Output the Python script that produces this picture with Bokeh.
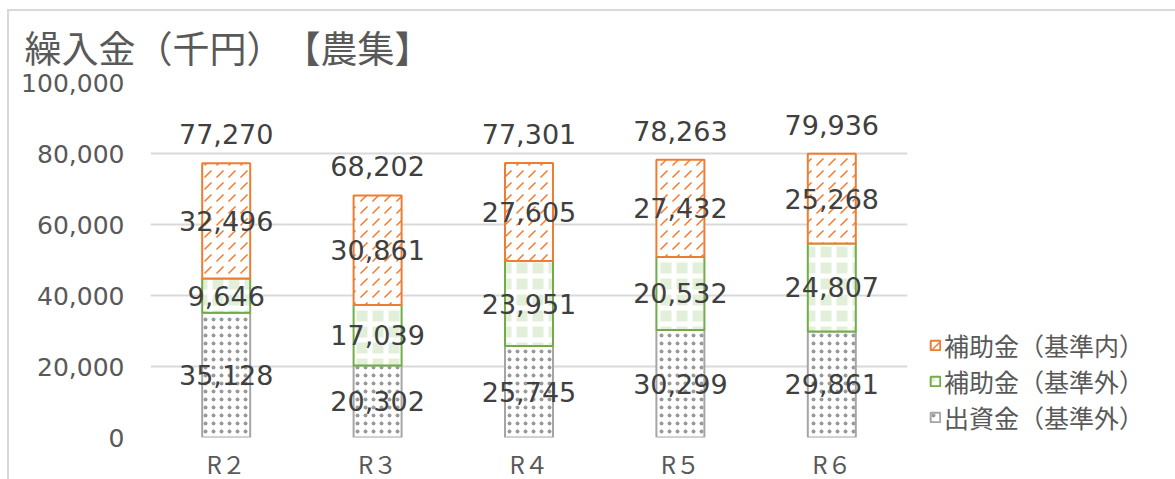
from bokeh.plotting import figure
from bokeh.models import ColumnDataSource, Legend, LegendItem, NumeralTickFormatter, FixedTicker
from bokeh.core.properties import value
from bokeh.embed import file_html
from bokeh.resources import INLINE

categories = ["R２", "R３", "R４", "R５", "R６"]
shusshi_gai = [35128, 20302, 25745, 30299, 29861]   # 出資金（基準外）
hojo_gai = [9646, 17039, 23951, 20532, 24807]       # 補助金（基準外）
hojo_nai = [32496, 30861, 27605, 27432, 25268]      # 補助金（基準内）
totals = [77270, 68202, 77301, 78263, 79936]
y_ticks = [0, 20000, 40000, 60000, 80000, 100000]

JP = "Noto Sans CJK JP"
NUM = "DejaVu Sans"

b1 = [0] * 5
t1 = list(shusshi_gai)
b2 = t1
t2 = [a + b for a, b in zip(shusshi_gai, hojo_gai)]
b3 = t2
t3 = [a + b for a, b in zip(t2, hojo_nai)]

src = ColumnDataSource(dict(
    x=categories, b1=b1, t1=t1, b2=b2, t2=t2, b3=b3, t3=t3,
    m1=[(a + b) / 2 for a, b in zip(b1, t1)],
    m2=[(a + b) / 2 for a, b in zip(b2, t2)],
    m3=[(a + b) / 2 for a, b in zip(b3, t3)],
    l1=[f"{v:,}" for v in shusshi_gai],
    l2=[f"{v:,}" for v in hojo_gai],
    l3=[f"{v:,}" for v in hojo_nai],
    tot=totals,
    lt=[f"{v:,}" for v in totals],
))

p = figure(x_range=categories, y_range=(0, 100000),
           frame_width=757, frame_height=355,
           output_backend="svg", toolbar_location=None,
           min_border_left=141, min_border_right=267, min_border_top=71, min_border_bottom=40)

p.title.text = "繰入金（千円）　【農集】"
p.title.text_font = JP
p.title.text_font_size = "37px"
p.title.text_font_style = "normal"
p.title.text_color = "#595959"
p.title.text_line_height = 1.0
p.title.align = "left"
p.title.vertical_align = "middle"
p.title.offset = -126
p.title.standoff = 15

p.outline_line_color = None
p.background_fill_color = "white"
p.border_fill_color = "white"
p.styles = {"margin-left": "7px", "margin-top": "9px",
            "border-left": "2px solid #d9d9d9", "border-top": "2px solid #d9d9d9"}

p.xgrid.grid_line_color = None
p.ygrid.grid_line_color = "#d9d9d9"
p.ygrid.grid_line_width = 2
p.ygrid.ticker = FixedTicker(ticks=y_ticks)

p.yaxis.ticker = FixedTicker(ticks=y_ticks)
p.yaxis.formatter = NumeralTickFormatter(format="0,0")
p.yaxis.axis_line_color = None
p.yaxis.major_tick_line_color = None
p.yaxis.minor_tick_line_color = None
p.yaxis.major_tick_out = 0
p.yaxis.major_tick_in = 0
p.yaxis.minor_tick_out = 0
p.yaxis.major_label_text_font = NUM
p.yaxis.major_label_text_font_size = "25px"
p.yaxis.major_label_text_color = "#595959"
p.yaxis.major_label_standoff = 26

p.xaxis.axis_line_color = None
p.xaxis.major_tick_line_color = None
p.xaxis.major_tick_out = 0
p.xaxis.major_tick_in = 0
p.xaxis.major_label_text_font = JP
p.xaxis.major_label_text_font_size = "24px"
p.xaxis.major_label_text_color = "#595959"
p.xaxis.major_label_standoff = 8

W = 0.317
r1 = p.vbar(x="x", bottom="b1", top="t1", width=W, source=src,
            fill_color="white", line_color="#a5a5a5", line_width=2,
            hatch_pattern=".", hatch_color="#9a9a9a", hatch_scale=8, hatch_weight=1)
r2 = p.vbar(x="x", bottom="b2", top="t2", width=W, source=src,
            fill_color="#e2efd9", line_color="#70ad47", line_width=2,
            hatch_pattern="+", hatch_color="white", hatch_scale=16, hatch_weight=5)
r3 = p.vbar(x="x", bottom="b3", top="t3", width=W, source=src,
            fill_color="white", line_color="#ed7d31", line_width=2,
            hatch_pattern=",", hatch_color="#ed7d31", hatch_scale=12, hatch_weight=1.5)

lab_kw = dict(text_font=value(NUM), text_font_size="27px", text_color="#404040",
              text_align="center", text_baseline="middle", source=src)
p.text(x="x", y="m1", text="l1", **lab_kw)
p.text(x="x", y="m2", text="l2", **lab_kw)
p.text(x="x", y="m3", text="l3", **lab_kw)
p.text(x="x", y="tot", text="lt", y_offset=-29, **lab_kw)

legend = Legend(items=[
    LegendItem(label="補助金（基準内）", renderers=[r3]),
    LegendItem(label="補助金（基準外）", renderers=[r2]),
    LegendItem(label="出資金（基準外）", renderers=[r1]),
], location=(22, 2))
legend.label_text_font = JP
legend.label_text_font_size = "25px"
legend.label_text_line_height = 1.0
legend.label_text_color = "#595959"
legend.glyph_width = 12
legend.glyph_height = 12
legend.label_standoff = 3
legend.spacing = 0
legend.padding = 0
legend.margin = 0
legend.border_line_color = None
legend.background_fill_alpha = 0
legend.label_height = 20
p.add_layout(legend, "right")

open("out.html", "w").write(file_html(p, INLINE))
